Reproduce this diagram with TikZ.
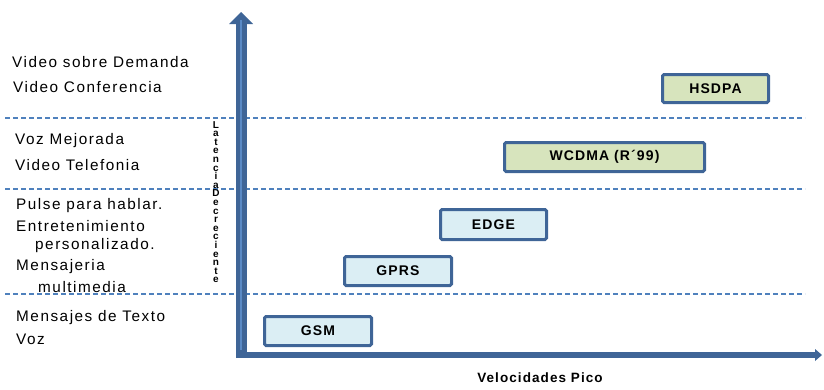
\documentclass[tikz,border=0pt]{standalone}
\usepackage{fontspec}
\setmainfont{Liberation Sans}
\newfontfamily\spaced[LetterSpace=10]{Liberation Sans}
\newfontfamily\spacedb[LetterSpace=8]{Liberation Sans}
\definecolor{axisblue}{HTML}{3F6597}
\definecolor{axislight}{HTML}{5A8AC6}
\definecolor{dashblue}{HTML}{4F81BD}
\definecolor{boxgreen}{HTML}{D7E4BD}
\definecolor{boxblue}{HTML}{DBEEF4}
\begin{document}
\begin{tikzpicture}[x=1pt,y=-1pt,
  tech/.style={draw=axisblue, line width=3pt, rounded corners=1.5pt, font=\spacedb\fontsize{14}{16}\selectfont\bfseries, inner sep=0pt},
  svc/.style={anchor=west, font=\spaced\fontsize{15.3}{17}\selectfont, inner sep=0pt},
  sep/.style={dashblue, line width=1.3pt, dash pattern=on 5pt off 3pt}]
\useasboundingbox (0,0) rectangle (824,389);
% dashed separators
\draw[sep] (5,118) -- (805,118);
\draw[sep] (5,189) -- (805,189);
\draw[sep] (5,294) -- (805,294);
% axes
\coordinate (ytop) at (241,24);
\coordinate (xend) at (815,355);
\draw[axisblue, line width=6pt] (236,355) -- (xend);
\fill[axisblue] (815,349) -- (822,355) -- (815,361) -- cycle;
\draw[axisblue, line width=11pt] (241,358) -- (ytop);
\fill[axisblue] (229,24) -- (241,12) -- (253,24) -- cycle;
\draw[axislight, line width=1.2pt] (241,350) -- (241,20);
% technology boxes
\node[tech, fill=boxgreen, minimum width=106pt, minimum height=28pt] (hsdpa) at (715.5,88.5) {HSDPA};
\node[tech, fill=boxgreen, minimum width=200pt, minimum height=29pt] (wcdma) at (604.5,157) {WCDMA (R\char"00B4 99)};
\node[tech, fill=boxblue, minimum width=106pt, minimum height=30pt] (edge) at (493.5,224.5) {EDGE};
\node[tech, fill=boxblue, minimum width=107pt, minimum height=29pt] (gprs) at (398,271) {GPRS};
\node[tech, fill=boxblue, minimum width=107pt, minimum height=29pt] (gsm) at (318,331) {GSM};
% services
\node[svc] (s1) at (12,62) {Video sobre Demanda};
\node[svc] (s2) at (13,87) {Video Conferencia};
\node[svc] (s3) at (15,141) {Voz Mejorada};
\node[svc] (s4) at (15,165) {Video Telefonia};
\node[svc] (s5) at (16,206) {Pulse para hablar.};
\node[svc] (s6) at (16,226) {Entretenimiento};
\node[svc] (s7) at (35,246) {personalizado.};
\node[svc] (s8) at (16,267) {Mensajeria};
\node[svc] (s9) at (38,287) {multimedia};
\node[svc] (s10) at (16,318) {Mensajes de Texto};
\node[svc] (s11) at (16,339) {Voz};
% axis labels
\node[font=\spacedb\fontsize{13.5}{16}\selectfont\bfseries, inner sep=0pt] (xl) at (540,378) {Velocidades Pico};
\node[font=\fontsize{10}{8.6}\selectfont\bfseries, align=center, inner sep=0pt, anchor=north] (yl) at (216,121)
 {L\\a\\t\\e\\n\\c\\i\\a\\D\\e\\c\\r\\e\\c\\i\\e\\n\\t\\e};
\end{tikzpicture}
\end{document}
